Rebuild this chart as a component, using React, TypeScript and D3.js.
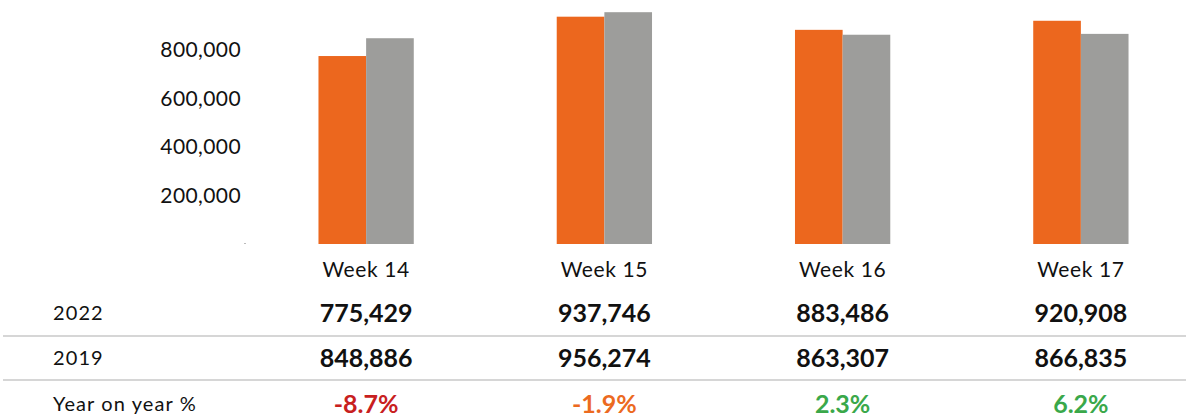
import React from 'react';
import * as d3 from 'd3';

const weeks = ['Week 14', 'Week 15', 'Week 16', 'Week 17'];
const values2022 = [775429, 937746, 883486, 920908];
const values2019 = [848886, 956274, 863307, 866835];
const yoyLabels = ['-8.7%', '-1.9%', '2.3%', '6.2%'];
const yoyColors = ['#c8201e', '#ec6a1f', '#3aa84a', '#3aa84a'];
const yTicks = [200000, 400000, 600000, 800000];
const seriesKeys = ['2022', '2019'];
const seriesColors = ['#ec671e', '#9d9d9b'];

const W = 1186;
const H = 417;
const FONT = 'Lato, "Open Sans", sans-serif';

const App = () => {
  const x = d3.scaleBand().domain(weeks).range([247, 1200]).paddingInner(0.6).paddingOuter(0.3);
  const x1 = d3.scaleBand().domain(seriesKeys).range([0, x.bandwidth()]);
  const y = d3.scaleLinear().domain([0, 1000000]).range([244, 1.6]);
  const fmt = d3.format(',');

  const rows = [
    { label: '2022', y: 313, values: values2022.map(fmt), colors: weeks.map(() => '#111') },
    { label: '2019', y: 358, values: values2019.map(fmt), colors: weeks.map(() => '#111') },
    { label: 'Year on year %', y: 404, values: yoyLabels, colors: yoyColors },
  ];

  return (
    <svg width={W} height={H} style={{ position: 'absolute', left: 0, top: 0, background: '#fff' }} fontFamily={FONT}>
      {yTicks.map(t => (
        <text key={t} x={241} y={y(t)} dy="0.35em" textAnchor="end" fontSize={21} letterSpacing={0.4} fill="#111">
          {fmt(t)}
        </text>
      ))}
      <rect x={244} y={y(0) - 1} width={2} height={1} fill="#bbb" />
      {weeks.map((w, i) => {
        const data = [values2022[i], values2019[i]];
        return (
          <g key={w} transform={`translate(${x(w)},0)`}>
            {data.map((v, j) => (
              <rect
                key={j}
                x={x1(seriesKeys[j])}
                y={y(v)}
                width={x1.bandwidth()}
                height={y(0) - y(v)}
                fill={seriesColors[j]}
              />
            ))}
            <text x={x.bandwidth() / 2} y={270} dy="0.35em" textAnchor="middle" fontSize={21} letterSpacing={0.6} fill="#111">
              {w}
            </text>
          </g>
        );
      })}
      <line x1={3} x2={W} y1={336} y2={336} stroke="#c8c8c8" strokeWidth={1.5} />
      <line x1={3} x2={W} y1={380} y2={380} stroke="#c8c8c8" strokeWidth={1.5} />
      {rows.map(r => (
        <g key={r.label}>
          <text x={53} y={r.y} dy="0.35em" fontSize={20} letterSpacing={1.1} fill="#111">{r.label}</text>
          {r.values.map((v, i) => (
            <text
              key={i}
              x={(x(weeks[i]) as number) + x.bandwidth() / 2}
              y={r.y}
              dy="0.35em"
              textAnchor="middle"
              fontSize={25}
              fontWeight="bold"
              fill={r.colors[i]}
            >
              {v}
            </text>
          ))}
        </g>
      ))}
    </svg>
  );
};

export default App;
